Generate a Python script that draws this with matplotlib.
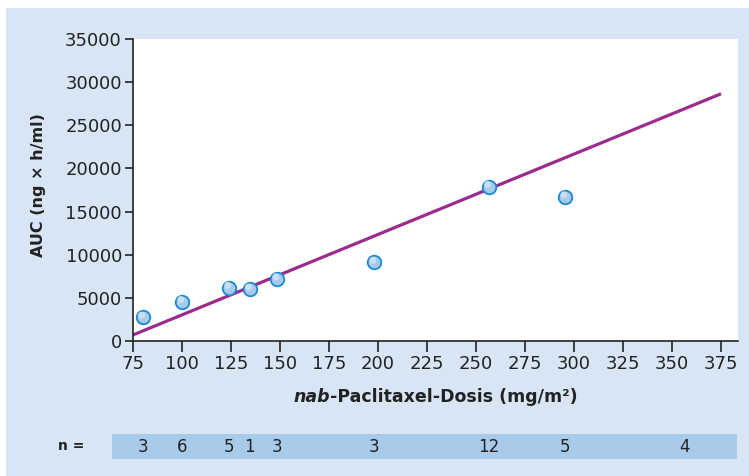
import matplotlib
matplotlib.use("Agg")
import matplotlib.pyplot as plt
from matplotlib.patches import Rectangle
from matplotlib.offsetbox import TextArea, HPacker, AnchoredOffsetbox
import numpy as np

# ---- data ----
dose = [80, 100, 124, 134.5, 148.5, 198, 256.5, 295.5]
auc = [2750, 4550, 6200, 6000, 7200, 9100, 17900, 16700]
fit_x = [75, 375]
fit_y = [700, 28650]
n_pos = [80, 100, 124, 134.5, 148.5, 198, 256.5, 295.5, 356.5]
n_vals = ["3", "6", "5", "1", "3", "3", "12", "5", "4"]
xticks = [75, 100, 125, 150, 175, 200, 225, 250, 275, 300, 325, 350, 375]
yticks = [0, 5000, 10000, 15000, 20000, 25000, 30000, 35000]

W, H = 749, 476
fig = plt.figure(figsize=(W / 100, H / 100), dpi=100)
fig.patch.set_facecolor("white")

panel_col = "#d8e5f5"
bar_col = "#a9cbea"
fig.patches.append(Rectangle((6 / W, 0), 1 - 6 / W, 1 - 8 / H, transform=fig.transFigure,
                             facecolor=panel_col, edgecolor="none", zorder=-10))

def px(x0, y0, x1, y1):
    return [x0 / W, 1 - y1 / H, (x1 - x0) / W, (y1 - y0) / H]

ax = fig.add_axes(px(133, 39, 738, 341))
ax.set_facecolor("white")
xmin = 75
xmax = 75 + (738 - 133) / 49 * 25
ax.set_xlim(xmin, xmax)
ax.set_ylim(0, 35000)

ax.plot(fit_x, fit_y, color="#9b2c8e", lw=2.3, zorder=2, solid_capstyle="butt")
ax.scatter(dose, auc, s=95, facecolor="#a6c9ec", edgecolor="#1a8ad0", linewidth=1.3, zorder=3)
ax.scatter(np.array(dose) - 0.6, np.array(auc) + 250, s=25, facecolor="#cfe2f6",
           edgecolor="none", zorder=4, alpha=0.9)

for s in ["top", "right"]:
    ax.spines[s].set_visible(False)
for s in ["left", "bottom"]:
    ax.spines[s].set_color("#222222")
    ax.spines[s].set_linewidth(1.2)

ax.set_xticks(xticks)
ax.set_yticks(yticks)
ax.set_yticklabels([str(v) for v in yticks])
ax.tick_params(axis="x", length=8, width=1.2, color="#222222", labelsize=13,
               labelcolor="#222222", pad=2)
ax.tick_params(axis="y", length=6, width=1.2, color="#222222", labelsize=13,
               labelcolor="#222222", pad=2)

ax.set_ylabel("AUC (ng × h/ml)", fontsize=11.5, fontweight="bold", color="#222222")
ax.yaxis.set_label_coords(-(133 - 46) / 605, (341 - 185) / 302)

# x label with italic "nab"
t1 = TextArea("nab", textprops=dict(fontsize=12.5, fontweight="bold", style="italic", color="#222222"))
t2 = TextArea("-Paclitaxel-Dosis (mg/m²)", textprops=dict(fontsize=12.5, fontweight="bold", color="#222222"))
box = HPacker(children=[t1, t2], align="baseline", pad=0, sep=0)
ab = AnchoredOffsetbox(loc="center", child=box, pad=0, frameon=False,
                       bbox_to_anchor=(435.5 / W, 1 - 397 / H), bbox_transform=fig.transFigure,
                       borderpad=0)
fig.add_artist(ab)

# n row
bx = fig.add_axes(px(112, 434, 737, 459))
bx.set_facecolor(bar_col)
bx.set_xlim(75 - (133 - 112) / 49 * 25, 75 + (737 - 133) / 49 * 25)
bx.set_ylim(0, 1)
for s in bx.spines.values():
    s.set_visible(False)
bx.set_xticks([])
bx.set_yticks([])
for xp, nv in zip(n_pos, n_vals):
    bx.text(xp, 0.5, nv, ha="center", va="center", fontsize=12, color="#222222")
fig.text(71 / W, 1 - 446 / H, "n =", ha="center", va="center", fontsize=10,
         fontweight="bold", color="#222222")

fig.savefig("out.png", dpi=100, facecolor=fig.get_facecolor())
